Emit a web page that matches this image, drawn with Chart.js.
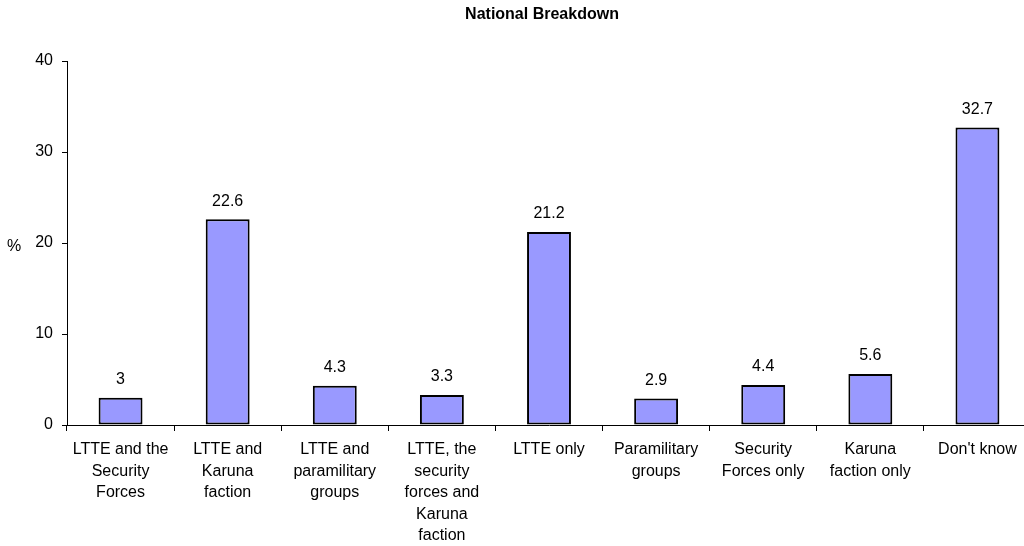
<!DOCTYPE html>
<html>
<head>
<meta charset="utf-8">
<script src="https://cdn.jsdelivr.net/npm/chart.js@4"></script>
<style>
html,body{margin:0;padding:0;background:#fff;overflow:hidden;}
#clip{width:1024px;height:546px;overflow:hidden;position:relative;}
#wrap{width:1031px;height:546px;position:relative;}
</style>
</head>
<body>
<div id="clip"><div id="wrap"><canvas id="c"></canvas></div></div>
<script>
const chartTitle = "National Breakdown";
const yAxisLabel = "%";
const categories = [
  ["LTTE and the","Security","Forces"],
  ["LTTE and","Karuna","faction"],
  ["LTTE and","paramilitary","groups"],
  ["LTTE, the","security","forces and","Karuna","faction"],
  "LTTE only",
  ["Paramilitary","groups"],
  ["Security","Forces only"],
  ["Karuna","faction only"],
  "Don't know"
];
const values = [3, 22.6, 4.3, 3.3, 21.2, 2.9, 4.4, 5.6, 32.7];
const valueLabels = ["3", "22.6", "4.3", "3.3", "21.2", "2.9", "4.4", "5.6", "32.7"];
const yTicks = [0, 10, 20, 30, 40];

const FONT = "Liberation Sans, Arial, sans-serif";

const overlay = {
  id: 'overlay',
  afterDatasetsDraw(chart) {
    const ctx = chart.ctx;
    const meta = chart.getDatasetMeta(0);
    ctx.save();
    ctx.fillStyle = '#000';
    ctx.font = '16px ' + FONT;
    ctx.textAlign = 'center';
    ctx.textBaseline = 'middle';
    meta.data.forEach((bar, i) => {
      ctx.fillText(valueLabels[i], bar.x, bar.y - 18);
    });
    ctx.restore();
  },
  afterDraw(chart) {
    const ctx = chart.ctx;
    const area = chart.chartArea;
    ctx.save();
    ctx.fillStyle = '#000';
    ctx.font = 'bold 16px ' + FONT;
    ctx.textAlign = 'center';
    ctx.textBaseline = 'middle';
    ctx.fillText(chartTitle, 542, 15);
    ctx.font = '16px ' + FONT;
    ctx.fillText(yAxisLabel, 14, (area.top + area.bottom) / 2 + 4);
    ctx.restore();
  }
};

new Chart(document.getElementById('c'), {
  type: 'bar',
  data: {
    labels: categories,
    datasets: [{
      data: values,
      backgroundColor: '#9999FF',
      borderColor: '#000',
      borderWidth: 2,
      borderSkipped: false,
      barPercentage: 0.41,
      categoryPercentage: 1.0
    }]
  },
  options: {
    responsive: true,
    maintainAspectRatio: false,
    animation: false,
    layout: { padding: { top: 61, left: 0, right: 0, bottom: 0 } },
    plugins: {
      legend: { display: false },
      title: { display: false },
      tooltip: { enabled: false }
    },
    scales: {
      x: {
        offset: true,
        grid: {
          offset: true,
          drawOnChartArea: false,
          drawTicks: true,
          tickLength: 6,
          color: '#000',
          lineWidth: 1
        },
        border: { display: true, color: '#000', width: 1 },
        ticks: {
          color: '#000',
          font: { family: FONT, size: 16, lineHeight: 1.344 },
          maxRotation: 0,
          minRotation: 0,
          autoSkip: false,
          padding: 8
        },
        afterFit(scale) { scale.height = 121; }
      },
      y: {
        min: 0,
        max: 40,
        afterBuildTicks(scale) { scale.ticks = yTicks.map(v => ({ value: v })); },
        grid: {
          drawOnChartArea: false,
          drawTicks: true,
          tickLength: 5,
          color: '#000',
          lineWidth: 1
        },
        border: { display: true, color: '#000', width: 1 },
        ticks: {
          color: '#000',
          font: { family: FONT, size: 16 },
          padding: 9
        },
        afterFit(scale) { scale.width = 67; }
      }
    }
  },
  plugins: [overlay]
});
</script>
</body>
</html>
